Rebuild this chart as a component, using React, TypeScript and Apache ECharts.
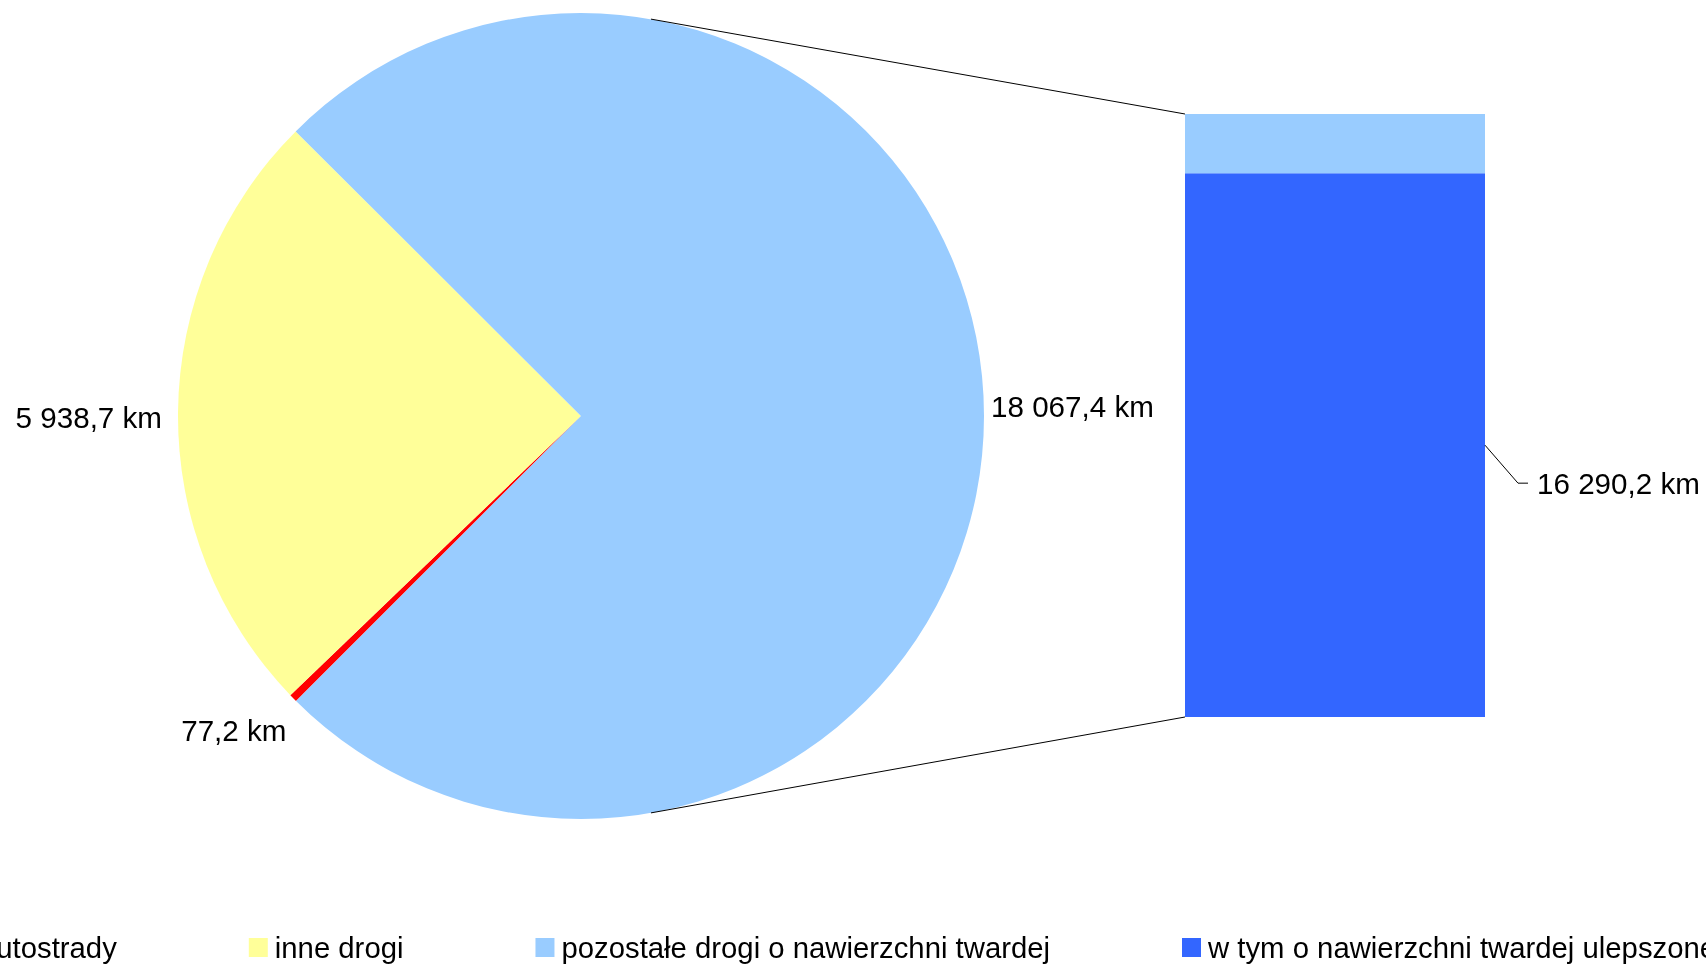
import React, { useEffect, useRef } from "react";
import * as echarts from "echarts";

// ---- data ----
const pieNames = ["autostrady", "inne drogi", "pozostałe drogi o nawierzchni twardej"];
const pieValues = [77.2, 5938.7, 18067.4];
const pieColors = ["#ff0000", "#ffff99", "#99ccff"];

const barCategories = ["pozostałe"];
const improvedName = "w tym o nawierzchni twardej ulepszonej";
const improvedValues = [16290.2];
const improvedColor = "#3366ff";

const legendNames = [
  "autostrady",
  "inne drogi",
  "pozostałe drogi o nawierzchni twardej",
  "w tym o nawierzchni twardej ulepszonej",
];

// ---- layout constants ----
const W = 1706;
const H = 965;
const PIE_CX = 581;
const PIE_CY = 416;
const PIE_R = 403;
const BAR_LEFT = 1185;
const BAR_WIDTH = 300;
const BAR_TOP = 114;
const BAR_HEIGHT = 603;
const FONT = "'Liberation Sans', Arial, sans-serif";
const FS = 29.6;
const LEGEND_FS = 29.3;

const fmt = (v: number) => {
  const [i, d] = v.toFixed(1).split(".");
  return i.replace(/\B(?=(\d{3})+(?!\d))/g, " ") + "," + d + " km";
};

export default function App() {
  const ref = useRef<HTMLDivElement>(null);
  useEffect(() => {
    if (!ref.current) return;
    const chart = echarts.init(ref.current, undefined, { renderer: "svg" });
    const total = pieValues[2];
    const remainder = [total - improvedValues[0]];

    // connector geometry derived from pie layout and bar grid
    const ang = (80 * Math.PI) / 180;
    const topPt = [PIE_CX + PIE_R * Math.cos(ang), PIE_CY - PIE_R * Math.sin(ang)];
    const botPt = [PIE_CX + PIE_R * Math.cos(ang), PIE_CY + PIE_R * Math.sin(ang)];
    const barRight = BAR_LEFT + BAR_WIDTH;
    const barBottom = BAR_TOP + BAR_HEIGHT;
    const darkMidY = barBottom - (BAR_HEIGHT * improvedValues[0]) / total / 2;
    const labelDy = 38;

    chart.setOption({
      animation: false,
      textStyle: { fontFamily: FONT },
      legend: {
        data: legendNames,
        left: -51,
        top: 928,
        width: 2400,
        itemWidth: 19,
        itemHeight: 19,
        itemGap: 132,
        icon: "rect",
        selectedMode: false,
        textStyle: {
          fontSize: LEGEND_FS,
          color: "#000",
          fontFamily: FONT,
          padding: [0, 0, 0, 2],
        },
      },
      grid: {
        left: BAR_LEFT,
        top: BAR_TOP,
        width: BAR_WIDTH,
        height: BAR_HEIGHT,
      },
      xAxis: { type: "category", data: barCategories, show: false },
      yAxis: { type: "value", min: 0, max: total, show: false },
      graphic: [
        {
          type: "line",
          shape: { x1: topPt[0], y1: topPt[1], x2: BAR_LEFT, y2: BAR_TOP },
          style: { stroke: "#000", lineWidth: 1 },
          z: 100,
        },
        {
          type: "line",
          shape: { x1: botPt[0], y1: botPt[1], x2: BAR_LEFT, y2: barBottom },
          style: { stroke: "#000", lineWidth: 1 },
          z: 100,
        },
        {
          type: "polyline",
          shape: {
            points: [
              [barRight, darkMidY],
              [barRight + 33, darkMidY + labelDy],
              [barRight + 43, darkMidY + labelDy],
            ],
          },
          style: { stroke: "#000", lineWidth: 1, fill: null },
          z: 100,
        },
      ],
      series: [
        {
          type: "pie",
          center: [PIE_CX, PIE_CY],
          radius: PIE_R,
          startAngle: 225,
          clockwise: true,
          avoidLabelOverlap: false,
          data: pieNames.map((n, i) => ({
            name: n,
            value: pieValues[i],
            itemStyle: { color: pieColors[i] },
          })),
          label: {
            show: true,
            position: "outside",
            formatter: (p: any) => fmt(p.value),
            fontSize: FS,
            color: "#000",
            fontFamily: FONT,
            distanceToLabelLine: 5,
          },
          labelLine: { show: false, length: 1, length2: 1 },
          labelLayout: (p: any) => {
            if (p.dataIndex === 0) return { dy: 32 };
            if (p.dataIndex === 1) return { dx: -9, dy: 5 };
            return { dy: -9 };
          },
          emphasis: { disabled: true },
        },
        {
          type: "bar",
          name: improvedName,
          stack: "s",
          barWidth: "100%",
          data: improvedValues,
          itemStyle: { color: improvedColor },
          label: {
            show: true,
            position: "right",
            distance: 52,
            offset: [0, labelDy],
            formatter: (p: any) => fmt(p.value),
            fontSize: FS,
            color: "#000",
            fontFamily: FONT,
          },
          emphasis: { disabled: true },
        },
        {
          type: "bar",
          name: pieNames[2],
          stack: "s",
          barWidth: "100%",
          data: remainder,
          itemStyle: { color: pieColors[2] },
          emphasis: { disabled: true },
        },
      ],
    });
    return () => chart.dispose();
  }, []);
  return (
    <div
      ref={ref}
      style={{ position: "fixed", left: 0, top: 0, width: W, height: H }}
    />
  );
}
